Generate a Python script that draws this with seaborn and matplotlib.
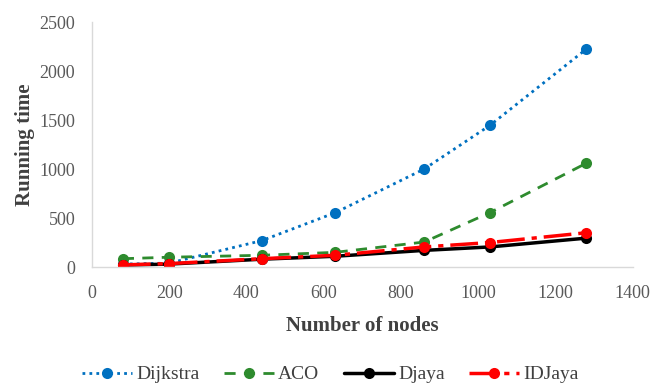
import numpy as np
import pandas as pd
import seaborn as sns
import matplotlib.pyplot as plt

nodes = [80, 200, 440, 630, 860, 1030, 1280]
dijkstra = [30, 40, 270, 555, 1000, 1445, 2225]
aco = [85, 100, 120, 150, 255, 555, 1060]
djaya = [20, 30, 80, 110, 170, 205, 295]
idjaya = [22, 35, 85, 120, 205, 250, 350]

series_names = ['Dijkstra', 'ACO', 'Djaya', 'IDJaya']
series_colors = ['#0070C0', '#2E8B2E', '#000000', '#FF0000']

sns.set_style('white')
plt.rcParams['font.family'] = ['Liberation Serif', 'DejaVu Serif']

df = pd.DataFrame({
    'nodes': nodes * 4,
    'time': dijkstra + aco + djaya + idjaya,
    'algo': [n for n in series_names for _ in nodes],
})

fig = plt.figure(figsize=(6.5, 3.87), dpi=100)
ax = fig.add_axes([0.1415, 0.31, 0.832, 0.633])

styles = {
    'Dijkstra': dict(linestyle=(0, (1, 1.5)), linewidth=2.0),
    'ACO': dict(linestyle=(0, (4, 3)), linewidth=2.0),
    'Djaya': dict(linestyle='-', linewidth=2.5),
    'IDJaya': dict(linestyle=(0, (8, 2, 1.5, 2)), linewidth=2.5),
}

for name, col in zip(series_names, series_colors):
    sub = df[df['algo'] == name]
    sns.lineplot(data=sub, x='nodes', y='time', ax=ax, color=col, marker='o',
                 markersize=8, markeredgewidth=0, label=name, **styles[name])

ax.set_xlim(0, 1400)
ax.set_ylim(0, 2500)
ax.set_xticks(np.arange(0, 1401, 200))
ax.set_yticks(np.arange(0, 2501, 500))
ax.tick_params(axis='both', labelsize=13, labelcolor='#595959', length=0)
ax.tick_params(axis='x', pad=13)
ax.tick_params(axis='y', pad=12)

ax.set_xlabel('Number of nodes', fontsize=15, fontweight='bold', color='#404040', labelpad=10)
ax.set_ylabel('Running time', fontsize=15, fontweight='bold', color='#404040', labelpad=3)

for side in ['top', 'right']:
    ax.spines[side].set_visible(False)
for side in ['left', 'bottom']:
    ax.spines[side].set_color('#D9D9D9')
    ax.spines[side].set_linewidth(1.0)

ax.legend_.remove()
handles, labels = ax.get_legend_handles_labels()
fig.legend(handles, labels, loc='center', bbox_to_anchor=(0.508, 0.032), ncol=4,
           frameon=False, fontsize=14, handlelength=2.6, columnspacing=1.25,
           handletextpad=0.2, labelcolor='#404040')

fig.savefig('out.png', dpi=100)
